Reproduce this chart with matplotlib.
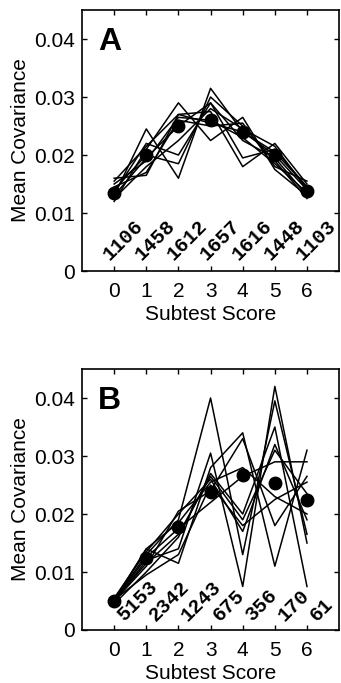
import numpy as np
import matplotlib
matplotlib.use('Agg')
import matplotlib.pyplot as plt

plt.rcParams['font.family'] = ['Liberation Sans', 'DejaVu Sans']

# subtest scores on the x axis
scores = [0, 1, 2, 3, 4, 5, 6]

# panel A: individual subtest curves, group mean and counts
lines_a = [
    [0.0130, 0.0245, 0.0160, 0.0315, 0.0240, 0.0200, 0.0140],
    [0.0120, 0.0210, 0.0290, 0.0225, 0.0265, 0.0175, 0.0130],
    [0.0160, 0.0165, 0.0270, 0.0275, 0.0180, 0.0220, 0.0150],
    [0.0140, 0.0200, 0.0185, 0.0300, 0.0250, 0.0190, 0.0125],
    [0.0135, 0.0220, 0.0200, 0.0290, 0.0195, 0.0210, 0.0145],
    [0.0150, 0.0190, 0.0265, 0.0260, 0.0230, 0.0185, 0.0135],
    [0.0125, 0.0180, 0.0225, 0.0280, 0.0245, 0.0215, 0.0140],
    [0.0145, 0.0170, 0.0260, 0.0250, 0.0255, 0.0180, 0.0155],
    [0.0155, 0.0215, 0.0270, 0.0255, 0.0240, 0.0205, 0.0145],
    [0.0130, 0.0195, 0.0250, 0.0290, 0.0225, 0.0195, 0.0130],
]
mean_a = [0.0135, 0.0200, 0.0250, 0.0260, 0.0240, 0.0200, 0.0138]
counts_a = ['1106', '1458', '1612', '1657', '1616', '1448', '1103']

# panel B
lines_b = [
    [0.0050, 0.0130, 0.0190, 0.0400, 0.0130, 0.0395, 0.0165],
    [0.0048, 0.0120, 0.0140, 0.0305, 0.0075, 0.0420, 0.0150],
    [0.0052, 0.0140, 0.0115, 0.0280, 0.0340, 0.0110, 0.0310],
    [0.0050, 0.0110, 0.0205, 0.0240, 0.0330, 0.0180, 0.0265],
    [0.0045, 0.0100, 0.0160, 0.0270, 0.0200, 0.0350, 0.0075],
    [0.0055, 0.0135, 0.0200, 0.0260, 0.0170, 0.0320, 0.0190],
    [0.0050, 0.0125, 0.0175, 0.0220, 0.0265, 0.0290, 0.0290],
    [0.0052, 0.0095, 0.0130, 0.0250, 0.0180, 0.0225, 0.0255],
    [0.0050, 0.0115, 0.0165, 0.0265, 0.0190, 0.0310, 0.0235],
    [0.0048, 0.0140, 0.0185, 0.0255, 0.0280, 0.0230, 0.0200],
]
mean_b = [0.0050, 0.0125, 0.0178, 0.0238, 0.0267, 0.0253, 0.0224]
counts_b = ['5153', '2342', '1243', '675', '356', '170', '61']

yticks = [0, 0.01, 0.02, 0.03, 0.04]
ytick_labels = ['0', '0.01', '0.02', '0.03', '0.04']


def draw_panel(ax, lines, mean, counts, letter, count_dx, count_y):
    for ln in lines:
        ax.plot(scores, ln, color='black', lw=1.1)
    ax.plot(scores, mean, 'o', color='black', ms=9)
    # counts written diagonally, anchored at their lower-left corner
    for s, c in zip(scores, counts):
        ax.text(s + count_dx, count_y, c, rotation=45, rotation_mode='anchor',
                ha='left', va='bottom', family='Liberation Mono',
                weight='bold', fontsize=14.5)
    ax.text(0.062, 0.845, letter, transform=ax.transAxes, fontsize=23,
            weight='bold', ha='left', va='baseline')
    ax.set_xlim(-1, 7)
    ax.set_ylim(0, 0.045)
    ax.set_xticks(scores)
    ax.set_yticks(yticks)
    ax.set_yticklabels(ytick_labels)
    ax.tick_params(direction='in', top=True, right=True, length=3.5, width=1,
                   labelsize=15)
    ax.tick_params(axis='x', pad=8)
    ax.tick_params(axis='y', pad=5)
    for sp in ax.spines.values():
        sp.set_linewidth(1.2)
    ax.set_xlabel('Subtest Score', fontsize=15, labelpad=3)
    ax.set_ylabel('Mean Covariance', fontsize=15, labelpad=3)


fig = plt.figure(figsize=(3.41, 6.83), dpi=100)
ax_a = fig.add_axes([0.2405, 0.6032, 0.754, 0.3821])
ax_b = fig.add_axes([0.2405, 0.0776, 0.754, 0.3821])

draw_panel(ax_a, lines_a, mean_a, counts_a, 'A', -0.05, 0.0013)
draw_panel(ax_b, lines_b, mean_b, counts_b, 'B', 0.38, 0.0009)

fig.savefig('out.png', dpi=100)
